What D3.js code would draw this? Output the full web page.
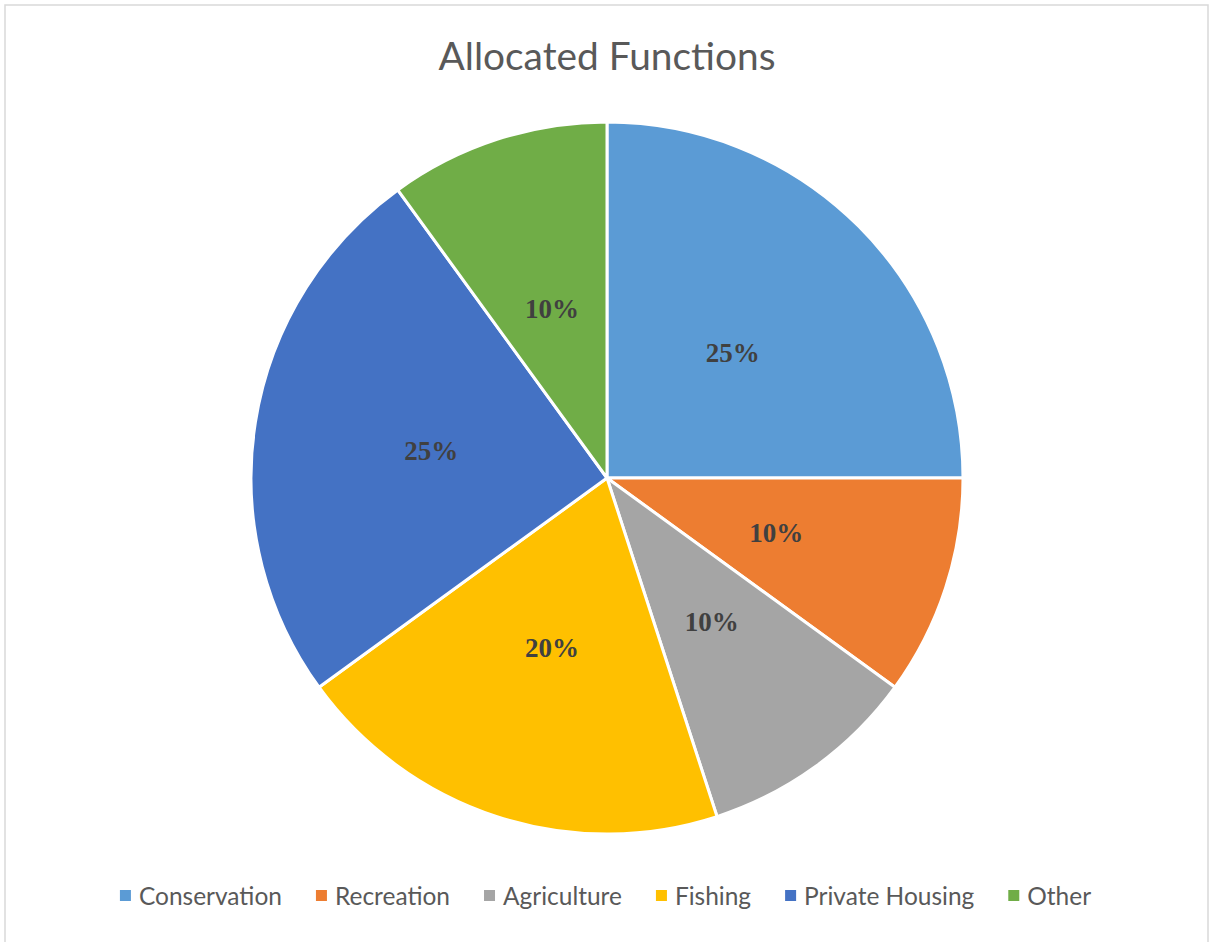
<!DOCTYPE html>
<html>
<head>
<meta charset="utf-8">
<script src="https://cdn.jsdelivr.net/npm/d3@7"></script>
<style>
html,body{margin:0;padding:0;background:#fff;}
svg{display:block;}
</style>
</head>
<body>
<svg id="chart" width="1212" height="942"></svg>
<script>
const categories = ["Conservation","Recreation","Agriculture","Fishing","Private Housing","Other"];
const values = [25,10,10,20,25,10];
const colors = ["#5B9BD5","#ED7D31","#A5A5A5","#FFC000","#4472C4","#70AD47"];
const title = "Allocated Functions";

const W = 1212, H = 942;
const svg = d3.select("#chart");

// frame
svg.append("rect").attr("x",5).attr("y",5).attr("width",1203).attr("height",950)
  .attr("fill","#fff").attr("stroke","#d9d9d9").attr("stroke-width",1.5);

const sans = "Lato, 'Open Sans', sans-serif";

// title
const t = svg.append("text").attr("x",607).attr("y",70)
  .attr("text-anchor","middle").attr("fill","#595959")
  .style("font-family",sans).style("font-size","36px").text(title);
let tw = t.node().getComputedTextLength();
t.style("font-size",(36*337/tw).toFixed(2)+"px");

// pie
const cx = 607, cy = 478, R = 356;
const pie = d3.pie().sort(null).value(d=>d);
const arc = d3.arc().innerRadius(0).outerRadius(R);
const g = svg.append("g").attr("transform",`translate(${cx},${cy})`);
const arcs = pie(values);
g.selectAll("path").data(arcs).enter().append("path")
  .attr("d",arc).attr("fill",(d,i)=>colors[i])
  .attr("stroke","#fff").attr("stroke-width",3).attr("stroke-linejoin","round");

g.selectAll("text.lbl").data(arcs).enter().append("text")
  .attr("class","lbl")
  .attr("transform",d=>{const c=arc.centroid(d);return `translate(${c[0]},${c[1]})`;})
  .attr("text-anchor","middle").attr("dy","0.35em")
  .attr("fill","#404040")
  .style("font-family","'Liberation Serif','Times New Roman',serif")
  .style("font-weight","bold").style("font-size","27px")
  .text(d=>Math.round(d.data/d3.sum(values)*100)+"%");

// legend
const legend = svg.append("g");
const lgFont = 22;
const probe = legend.append("text").style("font-family",sans).style("font-size",lgFont+"px").text("Conservation");
const scaleF = 143/probe.node().getComputedTextLength();
probe.remove();
const fs = lgFont*scaleF;
const items = legend.selectAll("g").data(categories).enter().append("g");
items.append("rect").attr("width",11).attr("height",11).attr("y",-15).attr("fill",(d,i)=>colors[i]);
items.append("text").attr("x",19).attr("y",0).attr("fill","#595959")
  .style("font-family",sans).style("font-size",fs.toFixed(2)+"px").text(d=>d);
let widths = [];
items.each(function(){ widths.push(19 + d3.select(this).select("text").node().getComputedTextLength()); });
const gap = 34;
const total = d3.sum(widths) + gap*(widths.length-1);
let x0 = 605.5 - total/2;
items.attr("transform",(d,i)=>{const x=x0; x0 += widths[i]+gap; return `translate(${x},905)`;});
</script>
</body>
</html>
